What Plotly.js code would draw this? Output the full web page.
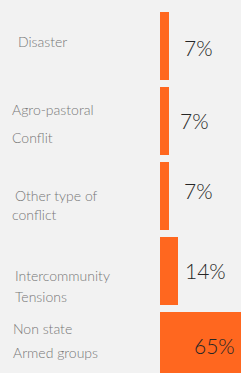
<!DOCTYPE html>
<html>
<head>
<meta charset="utf-8">
<script src="https://cdn.plot.ly/plotly-3.0.1.min.js"></script>
<style>html,body{margin:0;padding:0;background:#f2f2f2;}#chart{width:241px;height:373px;}</style>
</head>
<body>
<div id="chart"></div>
<script>
// Data
var categories = ["Disaster", "Agro-pastoral Conflit", "Other type of conflict", "Intercommunity Tensions", "Non state Armed groups"];
var labelLines = [["Disaster"], ["Agro-pastoral", "Conflit"], ["Other type of", "conflict"], ["Intercommunity", "Tensions"], ["Non state", "Armed groups"]];
var values = [7, 7, 7, 14, 65];
var valueLabels = ["7%", "7%", "7%", "14%", "65%"];

// Layout (pixel positions of the figure)
var W = 241, H = 373, L = 160;
var labelPos = [ [[16, 42]], [[10, 110], [10, 137.5]], [[13, 195.5], [10, 214.5]], [[13, 275], [13, 296.5]], [[11, 328.5], [11, 352]] ];
var valuePos = [[198, 47.5], [194, 120], [198, 190], [205.5, 270], [214, 345.5]];

function px(x) { return (x - L) / (W - L); }
function py(y) { return 1 - y / H; }

var annotations = [];
labelLines.forEach(function (lines, i) {
  lines.forEach(function (t, j) {
    annotations.push({
      text: t, xref: 'paper', yref: 'paper',
      x: px(labelPos[i][j][0]), y: py(labelPos[i][j][1]),
      xanchor: 'left', yanchor: 'middle', showarrow: false,
      font: {family: 'Lato, sans-serif', size: 14, color: '#777777', weight: 300}
    });
  });
});
valueLabels.forEach(function (t, i) {
  annotations.push({
    text: t, xref: 'paper', yref: 'paper',
    x: px(valuePos[i][0]), y: py(valuePos[i][1]),
    xanchor: 'center', yanchor: 'middle', showarrow: false,
    font: {family: 'Lato, sans-serif', size: 21, color: '#262626', weight: 300}
  });
});

var trace = {
  type: 'bar', orientation: 'h',
  x: values, y: categories,
  marker: {color: '#FF671F'},
  hoverinfo: 'none'
};

var layout = {
  width: W, height: H,
  margin: {l: L, r: 0, t: 0, b: 0, pad: 0},
  paper_bgcolor: '#f2f2f2', plot_bgcolor: '#f2f2f2',
  bargap: 0.0933,
  showlegend: false,
  xaxis: {range: [0, 63], showticklabels: false, showgrid: false, zeroline: false, showline: false, fixedrange: true},
  yaxis: {type: 'category', range: [(H - 46) / 75, -46 / 75], showticklabels: false, showgrid: false, zeroline: false, showline: false, fixedrange: true},
  annotations: annotations
};

Plotly.newPlot('chart', [trace], layout, {displayModeBar: false, staticPlot: true});
</script>
</body>
</html>
